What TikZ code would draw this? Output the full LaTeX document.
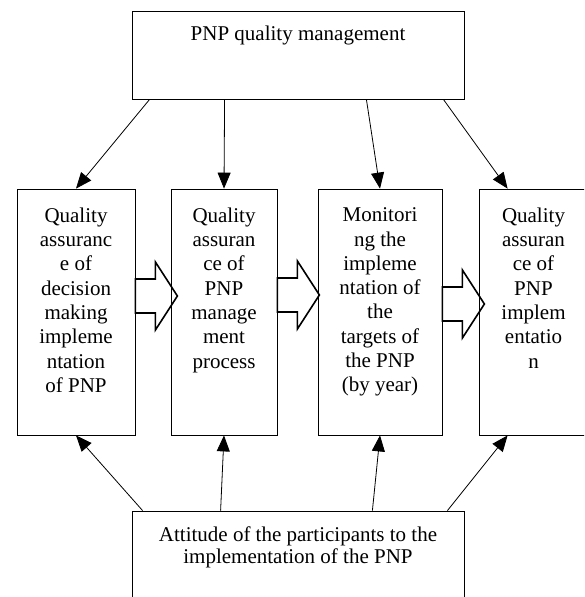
\documentclass[tikz,border=0pt]{standalone}
\usepackage{fontspec}
\setmainfont{Liberation Serif}
\usetikzlibrary{arrows.meta}

\begin{document}
\begin{tikzpicture}[x=1pt,y=-1pt,
    barrow/.pic={\draw[line width=1.6pt] (0,-17) -- (20,-17) -- (20,-34) -- (42,0)
      -- (20,34) -- (20,17) -- (0,17) -- cycle;}]

      \useasboundingbox (0,0) rectangle (584,597);
      \clip (0,0) rectangle (584,597);

      % Boxes
      \begin{scope}[every node/.style={rectangle,draw,line width=0.8pt}]
        \node[minimum width=332pt,minimum height=88pt] (top) at (298,55) {};

        \node[minimum width=118pt,minimum height=246pt] (m1) at (76,312) {};
        \node[minimum width=106pt,minimum height=246pt] (m2) at (224,312) {};
        \node[minimum width=124pt,minimum height=246pt] (m3) at (380,312) {};
        \node[minimum width=109pt,minimum height=246pt] (m4) at (533.5,312) {};

        \node[minimum width=332pt,minimum height=88pt] (bot) at (298,555) {};
      \end{scope}

      % Texts
      \begin{scope}[every node/.style={font=\fontsize{21}{24.3}\selectfont,align=center,inner sep=0pt}]
        \node[anchor=base] (ttop) at ([yshift=-29.5pt]top.north) {PNP quality management};

        \node[anchor=north] (t1) at ([yshift=-19pt]m1.north)
          {Quality\\assuranc\\e of\\decision\\making\\impleme\\ntation\\of PNP};
        \node[anchor=north] (t2) at ([yshift=-19pt]m2.north)
          {Quality\\assuran\\ce of\\PNP\\manage\\ment\\process};
        \node[anchor=north] (t3) at ([yshift=-19pt]m3.north)
          {Monitori\\ng the\\impleme\\ntation of\\the\\targets of\\the PNP\\(by year)};
        \node[anchor=north] (t4) at ([yshift=-19pt]m4.north)
          {Quality\\assuran\\ce of\\PNP\\implem\\entatio\\n};

        \node[anchor=north,font=\fontsize{21}{22}\selectfont] (tbot) at ([yshift=-16pt]bot.north)
          {Attitude of the participants to the\\implementation of the PNP};
      \end{scope}

      % Edges
      \begin{scope}[every edge/.style={draw,line width=0.8pt,-{Triangle[length=16pt,width=13pt]}}]
        \path ([xshift=18pt]top.south west) edge (m1.north);
        \path ([xshift=93pt]top.south west) edge (m2.north);
        \path ([xshift=-98pt]top.south east) edge (m3.north);
        \path ([xshift=-21pt]top.south east) edge ([xshift=29pt]m4.north west);

        \path ([xshift=11pt]bot.north west) edge (m1.south);
        \path ([xshift=89pt]bot.north west) edge (m2.south);
        \path ([xshift=-92pt]bot.north east) edge (m3.south);
        \path ([xshift=-17pt]bot.north east) edge ([xshift=29pt]m4.south west);
      \end{scope}

      % Block arrows
      \pic at ([yshift=16pt]m1.east) {barrow};
      \pic at ([yshift=17pt]m2.east) {barrow};
      \pic at ([yshift=8pt]m3.east) {barrow};

    \end{tikzpicture}
\end{document}
